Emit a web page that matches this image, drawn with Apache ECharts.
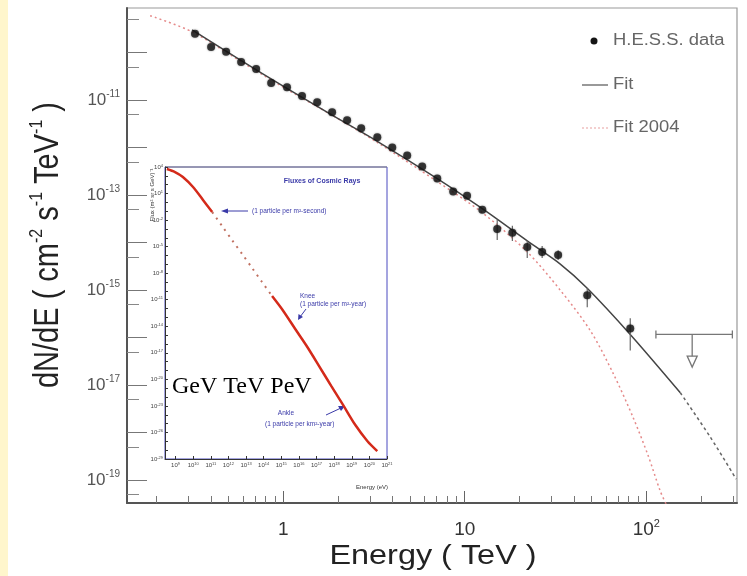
<!DOCTYPE html>
<html>
<head>
<meta charset="utf-8">
<script src="https://cdn.jsdelivr.net/npm/echarts@6/dist/echarts.min.js"></script>
<style>
html, body { margin: 0; padding: 0; background: #fff; }
#chart { width: 747px; height: 576px; }
</style>
</head>
<body>
<div id="chart"></div>
<script>
// H.E.S.S. data : energy (TeV), flux (cm^-2 s^-1 TeV^-1)
const hessE = [0.327, 0.401, 0.485, 0.587, 0.710, 0.859, 1.05, 1.27, 1.54, 1.86, 2.25, 2.69, 3.30, 3.99,
               4.82, 5.83, 7.06, 8.64, 10.3, 12.5, 15.1, 18.3, 22.1, 26.7, 32.7, 47.3, 81.6];
const hessF = [2.49e-10, 1.32e-10, 1.04e-10, 6.37e-11, 4.53e-11, 2.29e-11, 1.88e-11, 1.22e-11, 9.08e-12,
               5.57e-12, 3.78e-12, 2.55e-12, 1.65e-12, 1.01e-12, 6.86e-13, 4.01e-13, 2.23e-13, 1.19e-13,
               9.75e-14, 4.93e-14, 1.95e-14, 1.61e-14, 8.13e-15, 6.37e-15, 5.51e-15, 7.84e-16, 1.57e-16];
// error bars (null = too small to see)
const hessLo = [null, null, null, null, null, null, null, null, null, null, null, null, null, null,
                null, null, null, null, null, null, 1.14e-14, 1.09e-14, 4.75e-15, 4.75e-15, 4.3e-15, 4.36e-16, 5.37e-17];
const hessHi = [null, null, null, null, null, null, null, null, null, null, null, null, null, null,
                null, null, null, null, null, null, 3.03e-14, 2.26e-14, 1.14e-14, 8.53e-15, 6.9e-15, 1.10e-15, 2.55e-16];

// upper limit : energy bin and flux
const ulE = 179, ulEmin = 113, ulEmax = 298, ulF = 1.17e-16, ulArrowF = 2.4e-17;

// Fit (solid) and its extrapolation (dotted)
const fitE = [0.315, 0.579, 1.0, 1.82, 3.30, 7.06, 12.5, 22.1, 33.6, 47.3, 81.6, 154];
const fitF = [3.03e-10, 7.03e-11, 1.98e-11, 5.06e-12, 1.36e-12, 2.23e-13, 5.18e-14, 1.09e-14, 3.55e-15,
              1.10e-15, 1.17e-16, 6.93e-18];
const fitExtE = [154, 225, 313];
const fitExtF = [6.93e-18, 8.13e-19, 1.05e-19];

// Fit 2004
const fit04E = [0.185, 0.315, 0.579, 1.0, 1.82, 3.30, 7.06, 12.5, 22.1, 33.6, 49.1, 65.8, 84.8, 102.6, 119.5, 128.8];
const fit04F = [6.0e-10, 2.75e-10, 6.68e-11, 1.88e-11, 5.06e-12, 1.29e-12, 1.93e-13, 4.27e-14, 6.37e-15,
                1.0e-15, 1.42e-16, 1.75e-17, 2.05e-18, 3.22e-19, 5.85e-20, 3.1e-20];

// inset : fluxes of cosmic rays, energy (eV), flux (m^2 sr s GeV)^-1
const crE = [3.2e8, 9.3e8, 2.6e9, 9.8e9, 3.6e10, 1.2e11, 4.4e11, 1.6e12, 6.0e12, 2.2e13, 8.1e13, 3.0e14,
             1.3e15, 6.2e15, 3.0e16, 1.4e17, 6.8e17, 3.2e18, 1.6e19, 7.6e19, 2.8e20];
const crF = [5.9e3, 2.7e3, 7.4e2, 55, 1.9, 8.1e-2, 2.1e-3, 5.6e-5, 1.5e-6, 3.9e-8, 1.0e-9, 2.6e-11,
             5.4e-13, 4.9e-15, 4.6e-17, 3.2e-19, 1.8e-21, 1.3e-23, 6.9e-26, 1.1e-27, 7.9e-29];

// tick labels (powers of ten)
const mainXLabels = [0, 1, 2];
const mainYLabels = [-19, -17, -15, -13, -11];
const insetXLabels = [9, 10, 11, 12, 13, 14, 15, 16, 17, 18, 19, 20, 21];
const insetYLabels = [4, 1, -2, -5, -8, -11, -14, -17, -20, -23, -26, -29];

const lg = Math.log10;
const xMin = lg(0.138), xMax = lg(316);
const yMin = -19.48, yMax = -9.06;

const decX = [], minorX = [];
for (let d = -1; d <= 2; d++) {
    if (d >= xMin && d <= xMax) decX.push(d);
    for (let k = 2; k <= 9; k++) {
        const v = d + lg(k);
        if (v > xMin && v < xMax) minorX.push(v);
    }
}
const decY = [], fiveY = [];
for (let d = -20; d <= -9; d++) {
    if (d >= yMin && d <= yMax) decY.push(d);
    const v = d + lg(5);
    if (v > yMin && v < yMax) fiveY.push(v);
}
const insetYTicks = [];
for (let d = -29; d <= 4; d++) insetYTicks.push(d);

const pts = (xs, ys) => xs.map((x, i) => [lg(x), lg(ys[i])]);
const errData = [];
hessE.forEach((e, i) => {
    if (hessLo[i] !== null) errData.push([lg(e), lg(hessLo[i]), lg(hessHi[i])]);
});
const crPts = pts(crE, crF);

const sans = "'Liberation Sans', Arial, sans-serif";
const supRich = {
    b: { fontSize: 17, lineHeight: 22, color: "#555", fontFamily: sans },
    s: { fontSize: 10, lineHeight: 10, color: "#555", fontFamily: sans, verticalAlign: "top" }
};
const tinyRich = {
    b: { fontSize: 6, lineHeight: 7, color: "#444", fontFamily: sans },
    s: { fontSize: 4, lineHeight: 4, color: "#444", fontFamily: sans, verticalAlign: "top" }
};
const blue = "#3a3aa8";

const chart = echarts.init(document.getElementById("chart"));

const option = {
    backgroundColor: "#fff",
    animation: false,
    grid: [
        { left: 127, top: 8, right: 10, bottom: 73, show: true, borderColor: "#999", borderWidth: 1.2 },
        { left: 165, top: 167, width: 222, height: 292, show: true, borderColor: "#4a4ac0",
          borderWidth: 1, backgroundColor: "#fff" }
    ],
    xAxis: [
        {
            gridIndex: 0, type: "value", min: xMin, max: xMax,
            axisLine: { show: true, onZero: false, lineStyle: { color: "#555", width: 2 } },
            axisTick: { show: true, inside: true, length: 12, customValues: decX, lineStyle: { color: "#666" } },
            axisLabel: {
                customValues: mainXLabels, margin: 15,
                formatter: v => Math.round(v) === 0 ? "{b|1}" : Math.round(v) === 1 ? "{b|10}" : "{b|10}{s|" + Math.round(v) + "}",
                rich: {
                    b: { fontSize: 19, lineHeight: 24, color: "#333", fontFamily: sans },
                    s: { fontSize: 11, lineHeight: 11, color: "#333", fontFamily: sans, verticalAlign: "top" }
                }
            },
            splitLine: { show: false }
        },
        {
            gridIndex: 0, type: "value", min: xMin, max: xMax, position: "bottom",
            axisLine: { show: false, onZero: false },
            axisTick: { show: true, inside: true, length: 7, customValues: minorX, lineStyle: { color: "#777" } },
            axisLabel: { show: false },
            splitLine: { show: false }
        },
        {
            gridIndex: 1, type: "value", min: 8.4, max: 21,
            axisLine: { show: true, onZero: false, lineStyle: { color: "#333", width: 1 } },
            axisTick: { show: true, inside: true, length: 3, customValues: insetXLabels, lineStyle: { color: "#333" } },
            axisLabel: {
                customValues: insetXLabels, margin: 3,
                formatter: v => "{b|10}{s|" + Math.round(v) + "}", rich: tinyRich
            },
            splitLine: { show: false }
        }
    ],
    yAxis: [
        {
            gridIndex: 0, type: "value", min: yMin, max: yMax,
            axisLine: { show: true, onZero: false, lineStyle: { color: "#555", width: 2 } },
            axisTick: { show: true, inside: true, length: 20, customValues: decY, lineStyle: { color: "#777" } },
            axisLabel: {
                customValues: mainYLabels, margin: 7,
                formatter: v => "{b|10}{s|" + Math.round(v) + "}", rich: supRich
            },
            splitLine: { show: false }
        },
        {
            gridIndex: 0, type: "value", min: yMin, max: yMax, position: "left",
            axisLine: { show: false, onZero: false },
            axisTick: { show: true, inside: true, length: 12, customValues: fiveY, lineStyle: { color: "#888" } },
            axisLabel: { show: false },
            splitLine: { show: false }
        },
        {
            gridIndex: 1, type: "value", min: -29, max: 4,
            axisLine: { show: true, onZero: false, lineStyle: { color: "#333", width: 1 } },
            axisTick: { show: true, inside: true, length: 3, customValues: insetYTicks, lineStyle: { color: "#333" } },
            axisLabel: {
                customValues: insetYLabels, margin: 2,
                formatter: v => "{b|10}{s|" + Math.round(v) + "}", rich: tinyRich
            },
            splitLine: { show: false }
        }
    ],
    series: [
        {
            name: "Fit 2004", type: "line", xAxisIndex: 0, yAxisIndex: 0,
            data: pts(fit04E, fit04F), smooth: 0.3, symbol: "none", z: 2,
            lineStyle: { color: "#e58a8a", width: 1.5, type: [2, 3] }
        },
        {
            name: "Fit", type: "line", xAxisIndex: 0, yAxisIndex: 0,
            data: pts(fitE, fitF), smooth: 0.3, symbol: "none", z: 3,
            lineStyle: { color: "#444", width: 1.5 }
        },
        {
            name: "Fit extrapolation", type: "line", xAxisIndex: 0, yAxisIndex: 0,
            data: pts(fitExtE, fitExtF), smooth: 0.3, symbol: "none", z: 3,
            lineStyle: { color: "#666", width: 1.5, type: [3, 3] }
        },
        {
            name: "errors", type: "custom", xAxisIndex: 0, yAxisIndex: 0, data: errData, z: 4,
            renderItem: (params, api) => {
                const lo = api.coord([api.value(0), api.value(1)]);
                const hi = api.coord([api.value(0), api.value(2)]);
                return { type: "line", shape: { x1: lo[0], y1: lo[1], x2: hi[0], y2: hi[1] },
                         style: { stroke: "#666", lineWidth: 1.2 } };
            }
        },
        {
            name: "H.E.S.S. data", type: "scatter", xAxisIndex: 0, yAxisIndex: 0,
            data: pts(hessE, hessF), symbol: "circle", symbolSize: 8, z: 5,
            itemStyle: { color: "#151515", shadowBlur: 2, shadowColor: "rgba(0,0,0,0.5)" }
        },
        {
            name: "upper limit", type: "custom", xAxisIndex: 0, yAxisIndex: 0, z: 4,
            data: [[lg(ulE), lg(ulF), lg(ulEmin), lg(ulEmax), lg(ulArrowF)]],
            renderItem: (params, api) => {
                const c = api.coord([api.value(0), api.value(1)]);
                const l = api.coord([api.value(2), api.value(1)]);
                const r = api.coord([api.value(3), api.value(1)]);
                const a = api.coord([api.value(0), api.value(4)]);
                const st = { stroke: "#777", lineWidth: 1.3, fill: null };
                return {
                    type: "group",
                    children: [
                        { type: "line", shape: { x1: l[0], y1: l[1], x2: r[0], y2: r[1] }, style: st },
                        { type: "line", shape: { x1: l[0], y1: l[1] - 4, x2: l[0], y2: l[1] + 4 }, style: st },
                        { type: "line", shape: { x1: r[0], y1: r[1] - 4, x2: r[0], y2: r[1] + 4 }, style: st },
                        { type: "line", shape: { x1: c[0], y1: c[1], x2: c[0], y2: a[1] - 11 }, style: st },
                        { type: "polygon", shape: { points: [[c[0] - 5, a[1] - 11], [c[0] + 5, a[1] - 11], [c[0], a[1]]] }, style: st }
                    ]
                };
            }
        },
        {
            name: "cosmic rays", type: "line", xAxisIndex: 2, yAxisIndex: 2,
            data: crPts.slice(0, 6), smooth: 0.3, symbol: "none", z: 3,
            lineStyle: { color: "#d42a1a", width: 2.5 }
        },
        {
            name: "cosmic rays sparse", type: "line", xAxisIndex: 2, yAxisIndex: 2,
            data: crPts.slice(5, 12), smooth: 0.3, symbol: "none", z: 3,
            lineStyle: { color: "#c07060", width: 2, type: [2, 5] }
        },
        {
            name: "cosmic rays high", type: "line", xAxisIndex: 2, yAxisIndex: 2,
            data: crPts.slice(11), smooth: 0.3, symbol: "none", z: 3,
            lineStyle: { color: "#d42a1a", width: 2.5 }
        }
    ],
    graphic: [
        { type: "rect", left: 0, top: 0, shape: { width: 8, height: 576 }, style: { fill: "#fff6cc" }, z: -10 },
        // legend
        { type: "circle", shape: { cx: 594, cy: 41, r: 3.5 }, style: { fill: "#151515" } },
        { type: "text", x: 613, y: 41, scaleX: 1.15, style: { text: "H.E.S.S. data", font: "16px " + sans, fill: "#666", verticalAlign: "middle" } },
        { type: "line", shape: { x1: 582, y1: 85, x2: 608, y2: 85 }, style: { stroke: "#555", lineWidth: 1.2 } },
        { type: "text", x: 613, y: 85, scaleX: 1.15, style: { text: "Fit", font: "16px " + sans, fill: "#666", verticalAlign: "middle" } },
        { type: "line", shape: { x1: 582, y1: 128, x2: 608, y2: 128 }, style: { stroke: "#e8a0a0", lineWidth: 1.2, lineDash: [2, 2] } },
        { type: "text", x: 613, y: 128, scaleX: 1.15, style: { text: "Fit 2004", font: "16px " + sans, fill: "#666", verticalAlign: "middle" } },
        // axis titles
        {
            type: "text", x: 48, y: 245, rotation: Math.PI / 2, scaleY: 1.2,
            style: {
                text: "{a|dN/dE ( cm}{s|-2}{a| s}{s|-1}{a| TeV}{s|-1}{a| )}",
                align: "center", verticalAlign: "middle",
                rich: {
                    a: { fontSize: 29, lineHeight: 34, fill: "#222", fontFamily: sans },
                    s: { fontSize: 16, lineHeight: 16, fill: "#222", fontFamily: sans, verticalAlign: "top" }
                }
            }
        },
        { type: "text", x: 433, y: 557, scaleX: 1.2, style: { text: "Energy ( TeV )", font: "27px " + sans, fill: "#222", align: "center", verticalAlign: "middle" } },
        // inset texts
        { type: "text", x: 322, y: 181, style: { text: "Fluxes of Cosmic Rays", font: "bold 7px " + sans, fill: blue, align: "center", verticalAlign: "middle" } },
        { type: "text", x: 252, y: 211, style: { text: "(1 particle per m\u00b2-second)", font: "6.5px " + sans, fill: blue, verticalAlign: "middle" } },
        { type: "line", shape: { x1: 226, y1: 211, x2: 248, y2: 211 }, style: { stroke: blue, lineWidth: 1 } },
        { type: "polygon", shape: { points: [[221, 211], [228, 208.5], [228, 213.5]] }, style: { fill: blue } },
        { type: "text", x: 300, y: 296, style: { text: "Knee", font: "6.5px " + sans, fill: blue, verticalAlign: "middle" } },
        { type: "text", x: 300, y: 304, style: { text: "(1 particle per m\u00b2-year)", font: "6.5px " + sans, fill: blue, verticalAlign: "middle" } },
        { type: "line", shape: { x1: 306, y1: 309, x2: 300, y2: 317 }, style: { stroke: blue, lineWidth: 1 } },
        { type: "polygon", shape: { points: [[298, 320], [298.5, 314], [303, 317]] }, style: { fill: blue } },
        { type: "text", x: 286, y: 413, style: { text: "Ankle", font: "6.5px " + sans, fill: blue, align: "center", verticalAlign: "middle" } },
        { type: "text", x: 265, y: 424, style: { text: "(1 particle per km\u00b2-year)", font: "6.5px " + sans, fill: blue, verticalAlign: "middle" } },
        { type: "line", shape: { x1: 326, y1: 415, x2: 341, y2: 408 }, style: { stroke: blue, lineWidth: 1 } },
        { type: "polygon", shape: { points: [[345, 406], [338, 406], [341, 411]] }, style: { fill: blue } },
        { type: "text", x: 152, y: 195, rotation: Math.PI / 2, style: { text: "Flux (m\u00b2 sr s GeV)\u207b\u00b9", font: "6px " + sans, fill: "#333", align: "center", verticalAlign: "middle" } },
        { type: "text", x: 372, y: 487, style: { text: "Energy (eV)", font: "6px " + sans, fill: "#333", align: "center", verticalAlign: "middle" } },
        { type: "line", shape: { x1: 165, y1: 167, x2: 387, y2: 167 }, style: { stroke: "#888", lineWidth: 1 } },
        // overlay label
        { type: "text", x: 172, y: 387, style: { text: "GeV TeV PeV", font: "24px 'Liberation Serif', 'Times New Roman', serif", fill: "#000", verticalAlign: "middle" } }
    ]
};

chart.setOption(option);
window.addEventListener("resize", () => chart.resize());
</script>
</body>
</html>
